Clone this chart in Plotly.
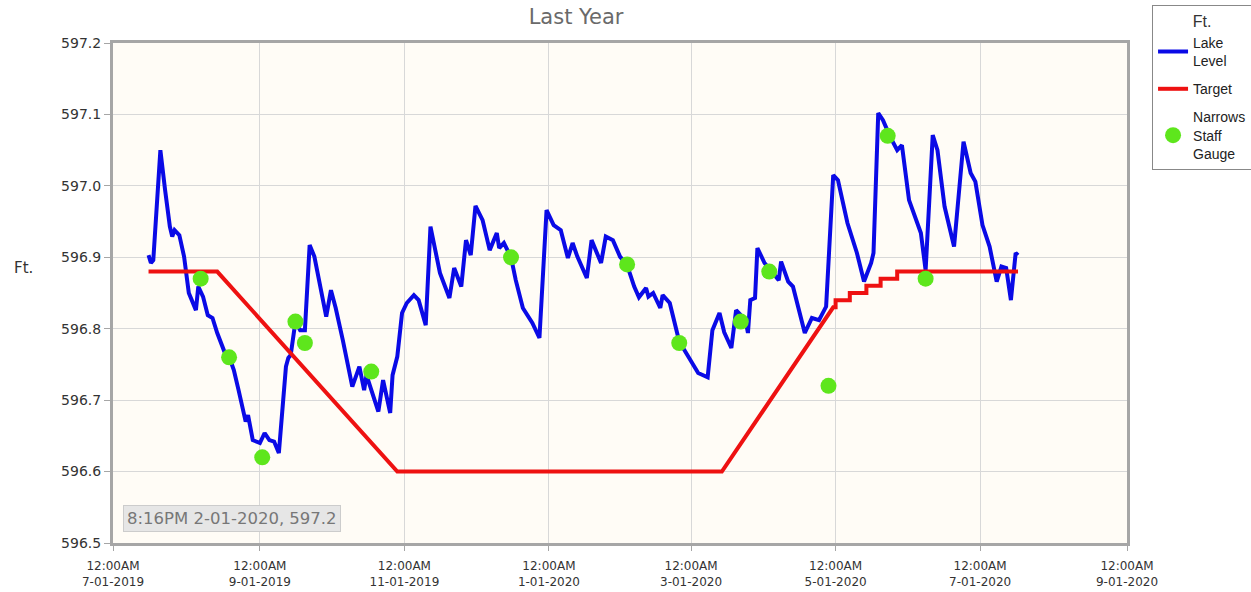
import plotly.graph_objects as go

# ---------------- data ----------------
lake_dates = [
    "2019-07-16", "2019-07-17", "2019-07-18", "2019-07-21", "2019-07-23", "2019-07-25", "2019-07-26",
    "2019-07-27", "2019-07-29", "2019-07-31", "2019-08-02", "2019-08-04", "2019-08-05", "2019-08-06",
    "2019-08-08", "2019-08-10", "2019-08-12", "2019-08-14", "2019-08-17", "2019-08-19", "2019-08-21",
    "2019-08-23", "2019-08-26", "2019-08-27", "2019-08-29", "2019-09-01", "2019-09-03", "2019-09-05",
    "2019-09-07", "2019-09-09", "2019-09-12", "2019-09-13", "2019-09-14", "2019-09-16", "2019-09-18",
    "2019-09-20", "2019-09-22", "2019-09-24", "2019-09-27", "2019-09-29", "2019-10-01", "2019-10-03",
    "2019-10-06", "2019-10-10", "2019-10-13", "2019-10-15", "2019-10-16", "2019-10-18", "2019-10-21",
    "2019-10-23", "2019-10-26", "2019-10-27", "2019-10-29", "2019-10-31", "2019-11-02", "2019-11-05",
    "2019-11-07", "2019-11-10", "2019-11-12", "2019-11-16", "2019-11-20", "2019-11-22", "2019-11-25",
    "2019-11-27", "2019-11-29", "2019-12-01", "2019-12-04", "2019-12-07", "2019-12-10", "2019-12-11",
    "2019-12-13", "2019-12-16", "2019-12-18", "2019-12-21", "2019-12-25", "2019-12-28", "2019-12-31",
    "2020-01-03", "2020-01-06", "2020-01-09", "2020-01-11", "2020-01-13", "2020-01-17", "2020-01-19",
    "2020-01-23", "2020-01-25", "2020-01-28", "2020-01-31", "2020-02-03", "2020-02-06", "2020-02-08",
    "2020-02-11", "2020-02-12", "2020-02-14", "2020-02-17", "2020-02-18", "2020-02-21", "2020-02-25",
    "2020-03-01", "2020-03-04", "2020-03-08", "2020-03-10", "2020-03-13", "2020-03-15", "2020-03-18",
    "2020-03-20", "2020-03-24", "2020-03-25", "2020-03-26", "2020-03-28", "2020-03-29", "2020-04-01",
    "2020-04-04", "2020-04-07", "2020-04-08", "2020-04-11", "2020-04-13", "2020-04-18", "2020-04-21",
    "2020-04-24", "2020-04-27", "2020-04-30", "2020-05-02", "2020-05-06", "2020-05-10", "2020-05-13",
    "2020-05-16", "2020-05-17", "2020-05-19", "2020-05-21", "2020-05-24", "2020-05-27", "2020-05-29",
    "2020-06-01", "2020-06-06", "2020-06-08", "2020-06-11", "2020-06-13", "2020-06-16", "2020-06-20",
    "2020-06-24", "2020-06-27", "2020-06-29", "2020-07-02", "2020-07-05", "2020-07-08", "2020-07-10",
    "2020-07-12", "2020-07-14", "2020-07-16", "2020-07-17",
]
lake_level = [
    596.903, 596.892, 596.896, 597.050, 596.994, 596.943, 596.929,
    596.938, 596.931, 596.901, 596.850, 596.833, 596.826, 596.859,
    596.845, 596.819, 596.815, 596.794, 596.768, 596.761, 596.742,
    596.714, 596.670, 596.679, 596.644, 596.640, 596.654, 596.644,
    596.642, 596.626, 596.747, 596.759, 596.763, 596.810, 596.798,
    596.798, 596.917, 596.901, 596.854, 596.817, 596.854, 596.829,
    596.784, 596.719, 596.747, 596.714, 596.735, 596.714, 596.684,
    596.728, 596.682, 596.735, 596.761, 596.822, 596.836, 596.847,
    596.840, 596.805, 596.943, 596.878, 596.843, 596.885, 596.859,
    596.924, 596.903, 596.972, 596.952, 596.910, 596.934, 596.913,
    596.920, 596.900, 596.868, 596.829, 596.808, 596.787, 596.966,
    596.945, 596.938, 596.899, 596.920, 596.901, 596.871, 596.924,
    596.892, 596.929, 596.924, 596.901, 596.889, 596.859, 596.844,
    596.857, 596.845, 596.850, 596.829, 596.847, 596.836, 596.782,
    596.754, 596.738, 596.732, 596.798, 596.822, 596.795, 596.773,
    596.826, 596.812, 596.794, 596.840, 596.843, 596.913, 596.892,
    596.880, 596.868, 596.894, 596.866, 596.859, 596.794, 596.815,
    596.812, 596.831, 597.015, 597.008, 596.948, 596.906, 596.866,
    596.892, 596.906, 597.102, 597.092, 597.069, 597.050, 597.057,
    596.980, 596.934, 596.882, 597.071, 597.050, 596.971, 596.915,
    597.062, 597.018, 597.006, 596.945, 596.915, 596.866, 596.887,
    596.885, 596.840, 596.906, 596.903,
]

target_dates = [
    "2019-07-16", "2019-08-14", "2019-10-29", "2020-03-14", "2020-04-30",
    "2020-05-01", "2020-05-01", "2020-05-07", "2020-05-07", "2020-05-14", "2020-05-14",
    "2020-05-20", "2020-05-20", "2020-05-27", "2020-05-27", "2020-07-17",
]
target_level = [
    596.88, 596.88, 596.60, 596.60, 596.83,
    596.83, 596.84, 596.84, 596.85, 596.85, 596.86,
    596.86, 596.87, 596.87, 596.88, 596.88,
]

gauge_dates = [
    "2019-08-07", "2019-08-19", "2019-09-02", "2019-09-16", "2019-09-20", "2019-10-18",
    "2019-12-16", "2020-02-03", "2020-02-25", "2020-03-22", "2020-04-03", "2020-04-28",
    "2020-05-23", "2020-06-08",
]
gauge_level = [
    596.87, 596.76, 596.62, 596.81, 596.78, 596.74,
    596.90, 596.89, 596.78, 596.81, 596.88, 596.72,
    597.07, 596.87,
]

tick_dates = ["2019-07-01", "2019-09-01", "2019-11-01", "2020-01-01",
              "2020-03-01", "2020-05-01", "2020-07-01", "2020-09-01"]
tick_labels = ["12:00AM<br>7-01-2019", "12:00AM<br>9-01-2019", "12:00AM<br>11-01-2019",
               "12:00AM<br>1-01-2020", "12:00AM<br>3-01-2020", "12:00AM<br>5-01-2020",
               "12:00AM<br>7-01-2020", "12:00AM<br>9-01-2020"]
y_ticks = [596.5, 596.6, 596.7, 596.8, 596.9, 597.0, 597.1, 597.2]
y_labels = ["596.5", "596.6", "596.7", "596.8", "596.9", "597.0", "597.1", "597.2"]

FONT = "DejaVu Sans"

fig = go.Figure()
fig.add_trace(go.Scatter(
    x=lake_dates, y=lake_level, mode="lines", name="Lake<br>Level", legendgroup="a",
    line=dict(color="#0a0ae6", width=4),
))
fig.add_trace(go.Scatter(
    x=target_dates, y=target_level, mode="lines", name="Target", legendgroup="b",
    line=dict(color="#ee1111", width=4),
))
fig.add_trace(go.Scatter(
    x=gauge_dates, y=gauge_level, mode="markers", name="Narrows<br>Staff<br>Gauge", legendgroup="c",
    marker=dict(color="#5ee61c", size=16, line=dict(width=0)),
))

fig.update_layout(
    width=1251, height=592,
    margin=dict(l=113, r=124, t=43, b=49, autoexpand=False),
    paper_bgcolor="white",
    plot_bgcolor="#fffcf6",
    font=dict(family=FONT, color="#333333"),
    title=dict(text="Last Year", x=0.4605, xanchor="center", y=0.972, yanchor="middle",
               font=dict(family=FONT, size=21, color="#6a6a6a")),
    showlegend=True,
    legend=dict(
        x=1.0247, xanchor="left", y=1.076, yanchor="top",
        bgcolor="white", bordercolor="#888888", borderwidth=1,
        font=dict(family="Liberation Sans", size=14, color="#222222"),
        title=dict(text="Ft.", side="top center", font=dict(family="Liberation Sans", size=16, color="#333333")),
        itemwidth=30, tracegroupgap=7,
    ),
    xaxis=dict(
        range=["2019-07-01", "2020-09-01"],
        tickmode="array", tickvals=tick_dates, ticktext=tick_labels,
        tickfont=dict(family=FONT, size=12, color="#333333"),
        showgrid=True, gridcolor="#d8d8d8", gridwidth=1,
        showline=True, linecolor="#a6a6a6", linewidth=3, mirror=True,
        ticks="outside", ticklen=5, tickcolor="#a6a6a6", ticklabelstandoff=5,
        zeroline=False,
    ),
    yaxis=dict(
        range=[596.5, 597.2],
        tickmode="array", tickvals=y_ticks, ticktext=y_labels,
        tickfont=dict(family=FONT, size=14, color="#333333"),
        showgrid=True, gridcolor="#d8d8d8", gridwidth=1,
        showline=True, linecolor="#a6a6a6", linewidth=3, mirror=True,
        ticks="outside", ticklen=6, tickcolor="#a6a6a6",
        zeroline=False,
    ),
    annotations=[
        dict(text="Ft.", xref="paper", yref="paper", x=-0.088, y=0.55,
             xanchor="center", yanchor="middle", showarrow=False,
             font=dict(family=FONT, size=15, color="#333333")),
        dict(text="8:16PM 2-01-2020, 597.2", xref="paper", yref="paper",
             x=0.0099, y=0.022, xanchor="left", yanchor="bottom", showarrow=False,
             bgcolor="#e6e6e6", bordercolor="#cccccc", borderwidth=1, borderpad=3,
             font=dict(family=FONT, size=16.5, color="#777777")),
    ],
)

fig.write_html("out.html", config={"displayModeBar": False},
               post_script="document.body.style.margin='0';document.body.style.overflow='hidden';")
